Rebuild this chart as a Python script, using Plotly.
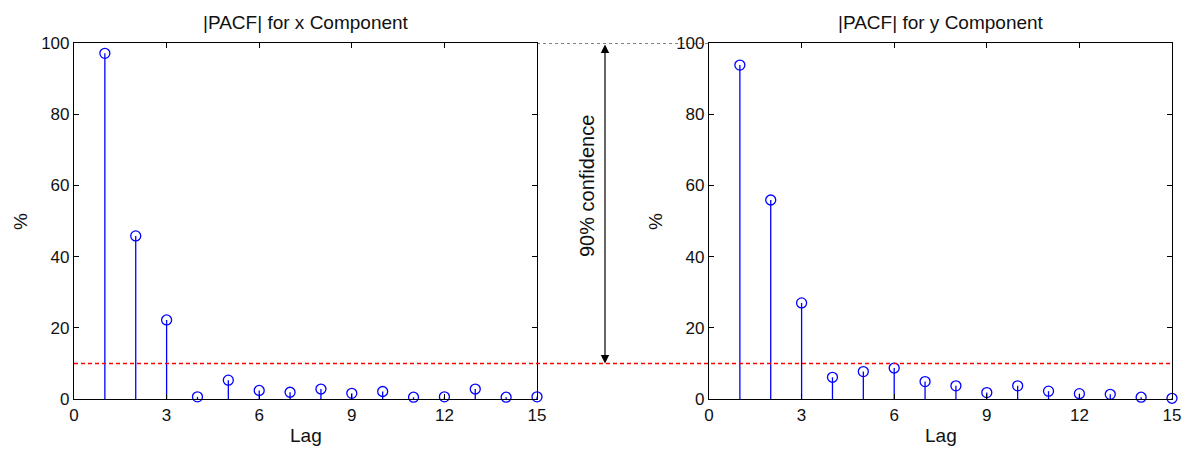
import plotly.graph_objects as go

lags = list(range(1, 16))
pacf_x = [97.1, 45.8, 22.2, 0.6, 5.3, 2.4, 1.9, 2.8, 1.6, 2.1, 0.5, 0.6, 2.8, 0.5, 0.6]
pacf_y = [93.8, 55.9, 27.0, 6.1, 7.7, 8.7, 4.9, 3.7, 1.8, 3.7, 2.2, 1.5, 1.3, 0.5, 0.2]
confidence = 10.0
x_ticks = [0, 3, 6, 9, 12, 15]
y_ticks = [0, 20, 40, 60, 80, 100]
titles = ["|PACF| for x Component", "|PACF| for y Component"]

W, H = 1189, 449
FONT = "Liberation Sans, Arial, sans-serif"
BLUE = "#0000ff"
TXT = "#111111"

def px_x(p):
    return p / W

def px_y(p):
    return 1 - p / H

dom1 = [px_x(74), px_x(537)]
dom2 = [px_x(709), px_x(1172)]
ydom = [px_y(399), px_y(43)]

fig = go.Figure()

def stem_arrays(xs, ys):
    sx, sy = [], []
    for a, b in zip(xs, ys):
        sx += [a, a, None]
        sy += [0, b, None]
    return sx, sy

for i, vals in enumerate([pacf_x, pacf_y]):
    xa = "x" if i == 0 else "x2"
    ya = "y" if i == 0 else "y2"
    sx, sy = stem_arrays(lags, vals)
    fig.add_trace(go.Scatter(x=sx, y=sy, mode="lines", line=dict(color=BLUE, width=1.3),
                             xaxis=xa, yaxis=ya, showlegend=False, hoverinfo="skip",
                             cliponaxis=False))
    fig.add_trace(go.Scatter(x=lags, y=vals, mode="markers",
                             marker=dict(symbol="circle-open", size=10, color=BLUE,
                                         line=dict(width=1.3, color=BLUE)),
                             xaxis=xa, yaxis=ya, showlegend=False, cliponaxis=False))

axis_common = dict(range=[0, 15], tickvals=x_ticks, ticks="inside", ticklen=5,
                   tickcolor="black", showline=True, linecolor="black", linewidth=1.2,
                   mirror="ticks", showgrid=False, zeroline=False, automargin=False,
                   tickfont=dict(family=FONT, size=17, color=TXT))
yaxis_common = dict(range=[0, 100], tickvals=y_ticks, ticks="inside", ticklen=5,
                    tickcolor="black", showline=True, linecolor="black", linewidth=1.2,
                    mirror="ticks", showgrid=False, zeroline=False, automargin=False,
                    tickfont=dict(family=FONT, size=17, color=TXT))

fig.update_layout(
    width=W, height=H,
    margin=dict(l=0, r=0, t=0, b=0),
    paper_bgcolor="white", plot_bgcolor="white",
    xaxis=dict(domain=dom1, anchor="y", **axis_common),
    xaxis2=dict(domain=dom2, anchor="y2", **axis_common),
    yaxis=dict(domain=ydom, anchor="x", **yaxis_common),
    yaxis2=dict(domain=ydom, anchor="x2", **yaxis_common),
)

# titles and axis labels
for dom, t in zip([dom1, dom2], titles):
    fig.add_annotation(text=t, xref="paper", yref="paper", x=(dom[0] + dom[1]) / 2,
                       y=px_y(22), showarrow=False, xanchor="center", yanchor="middle",
                       font=dict(family=FONT, size=19, color=TXT))
    fig.add_annotation(text="Lag", xref="paper", yref="paper", x=(dom[0] + dom[1]) / 2,
                       y=px_y(435), showarrow=False, xanchor="center", yanchor="middle",
                       font=dict(family=FONT, size=19, color=TXT))
    fig.add_annotation(text="%", xref="paper", yref="paper", x=dom[0] - px_x(54),
                       y=px_y(222), showarrow=False, textangle=-90,
                       xanchor="center", yanchor="middle",
                       font=dict(family=FONT, size=19, color=TXT))

# red dashed confidence line across both panels
fig.add_shape(type="line", xref="paper", yref="y", x0=dom1[0], x1=dom2[1],
              y0=confidence, y1=confidence,
              line=dict(color="#ff0000", width=1.5, dash="4px,3px"), layer="above")

# black dashed line at 100 between panels
fig.add_shape(type="line", xref="paper", yref="y", x0=dom1[1], x1=dom2[0],
              y0=100, y1=100, line=dict(color="black", width=1.2, dash="3px,3px"), layer="above")

# double-headed arrow between panels
span_px = (100 - confidence) * (399 - 43) / 100
fig.add_annotation(x=px_x(605), y=confidence, xref="paper", yref="y",
                   ax=0, ay=-span_px, axref="pixel", ayref="pixel",
                   showarrow=True, arrowhead=2, arrowside="end+start",
                   arrowsize=1.4, arrowwidth=1.2, arrowcolor="black", standoff=0,
                   startstandoff=0, text="")
fig.add_annotation(text="90% confidence", xref="paper", yref="paper", x=px_x(587),
                   y=px_y(186), showarrow=False, textangle=-90,
                   xanchor="center", yanchor="middle",
                   font=dict(family=FONT, size=20, color=TXT))

fig.write_html("out.html", config={"displayModeBar": False},
               post_script="document.body.style.margin='0';document.body.style.overflow='hidden';")
